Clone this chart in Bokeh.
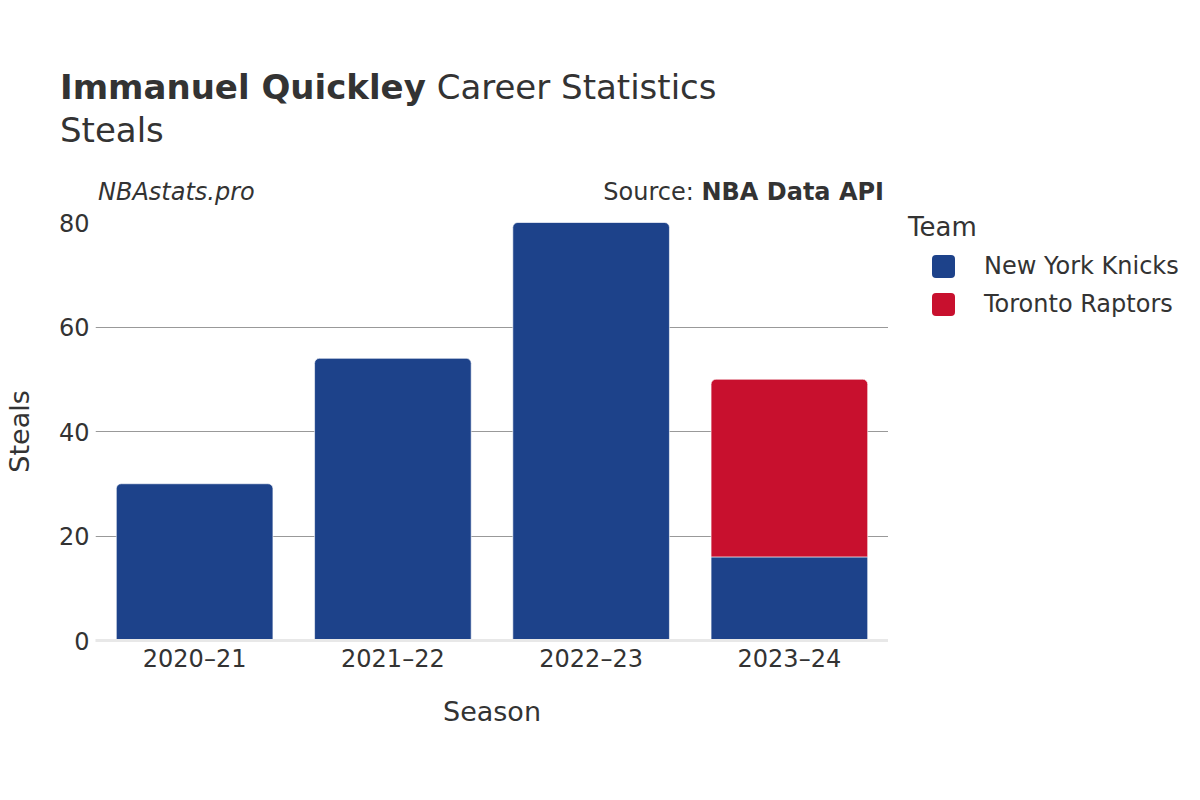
from bokeh.plotting import figure
from bokeh.models import Range1d, FactorRange, Div
from bokeh.layouts import column, row
from bokeh.embed import file_html
from bokeh.resources import INLINE

player = "Immanuel Quickley"
stat = "Steals"
seasons = ["2020–21", "2021–22", "2022–23", "2023–24"]
teams = ["New York Knicks", "Toronto Raptors"]
knicks = [30, 54, 80, 16]
raptors = [0, 0, 0, 34]
team_colors = ["#1d428a", "#c8102e"]
y_ticks = [0, 20, 40, 60, 80]

FONT = "DejaVu Sans"
TXT = "#333333"
W_TOTAL = 1184
H_TOTAL = 784
HEAD_H = 210
PLOT_W = 888

# ---- heading (title, subtitle, credits) ----
head_html = f"""
<div style="position:relative;width:{W_TOTAL}px;height:{HEAD_H}px;font-family:'{FONT}';color:{TXT};">
  <div style="position:absolute;left:60px;top:70px;font-size:34px;line-height:34px;white-space:nowrap;"><b>{player}</b> Career Statistics</div>
  <div style="position:absolute;left:60px;top:113px;font-size:34px;line-height:34px;white-space:nowrap;">{stat}</div>
  <div style="position:absolute;left:98px;top:180px;font-size:24px;line-height:24px;font-style:italic;white-space:nowrap;">NBAstats.pro</div>
  <div style="position:absolute;right:{W_TOTAL - 884}px;top:180px;font-size:24px;line-height:24px;white-space:nowrap;text-align:right;">Source: <b>NBA Data API</b></div>
</div>
"""
head = Div(text=head_html, width=W_TOTAL, height=HEAD_H, margin=0)

# ---- legend ----
items_html = ""
for i, (team, col) in enumerate(zip(teams, team_colors)):
    sq_top = 45 + 38 * i
    lb_top = 44 + 38 * i
    items_html += (
        f'<div style="position:absolute;left:44px;top:{sq_top}px;width:23px;height:23px;'
        f'border-radius:4px;background:{col};"></div>'
        f'<div style="position:absolute;left:96px;top:{lb_top}px;font-size:24px;line-height:24px;'
        f'white-space:nowrap;">{team}</div>'
    )
legend_html = f"""
<div style="position:relative;width:{W_TOTAL - PLOT_W}px;height:{H_TOTAL - HEAD_H}px;font-family:'{FONT}';color:{TXT};">
  <div style="position:absolute;left:20px;top:4px;font-size:26px;line-height:26px;white-space:nowrap;">Team</div>
  {items_html}
</div>
"""
legend_div = Div(text=legend_html, width=W_TOTAL - PLOT_W, height=H_TOTAL - HEAD_H, margin=0)

# ---- chart ----
p = figure(
    x_range=FactorRange(factors=seasons),
    y_range=Range1d(0, 80),
    width=PLOT_W, height=H_TOTAL - HEAD_H,
    output_backend="svg", toolbar_location=None,
    min_border_left=93, min_border_right=0,
    min_border_top=222 - HEAD_H, min_border_bottom=H_TOTAL - 640,
    margin=0,
)
p.outline_line_color = None

W = 0.79
ny_round_x = [s for s, r in zip(seasons, raptors) if r == 0]
ny_round_top = [k for k, r in zip(knicks, raptors) if r == 0]
ny_flat_x = [s for s, r in zip(seasons, raptors) if r > 0]
ny_flat_top = [k for k, r in zip(knicks, raptors) if r > 0]
tor_x = [s for s, r in zip(seasons, raptors) if r > 0]
tor_bottom = [k for k, r in zip(knicks, raptors) if r > 0]
tor_top = [k + r for k, r in zip(knicks, raptors) if r > 0]

bar_style = dict(width=W, line_color="white", line_alpha=0.6, line_width=1)
p.vbar(x=ny_round_x, top=ny_round_top, bottom=0, fill_color=team_colors[0],
       border_radius=(5, 5, 0, 0), **bar_style)
p.vbar(x=ny_flat_x, top=ny_flat_top, bottom=0, fill_color=team_colors[0], **bar_style)
p.vbar(x=tor_x, top=tor_top, bottom=tor_bottom, fill_color=team_colors[1],
       border_radius=(5, 5, 0, 0), **bar_style)

p.yaxis.ticker = y_ticks
p.xaxis.axis_line_color = "#e8e8e8"
p.xaxis.axis_line_width = 3
p.yaxis.axis_line_color = None
for ax in (p.xaxis, p.yaxis):
    ax.major_tick_line_color = None
    ax.minor_tick_line_color = None
    ax.major_tick_out = 0
    ax.major_tick_in = 0
    ax.major_label_text_font = FONT
    ax.major_label_text_font_size = "24px"
    ax.major_label_text_color = TXT
    ax.axis_label_text_font = FONT
    ax.axis_label_text_font_size = "27px"
    ax.axis_label_text_font_style = "normal"
    ax.axis_label_text_color = TXT
p.xaxis.major_label_standoff = 4
p.yaxis.major_label_standoff = 6
p.xaxis.axis_label = "Season"
p.yaxis.axis_label = stat
p.xaxis.axis_label_standoff = 20
p.yaxis.axis_label_standoff = 21
p.xgrid.visible = False
p.ygrid.grid_line_color = "#999999"
p.ygrid.grid_line_width = 1

layout = column(head, row(p, legend_div, spacing=0, margin=0), spacing=0, margin=0)
open("out.html", "w").write(file_html(layout, INLINE))
